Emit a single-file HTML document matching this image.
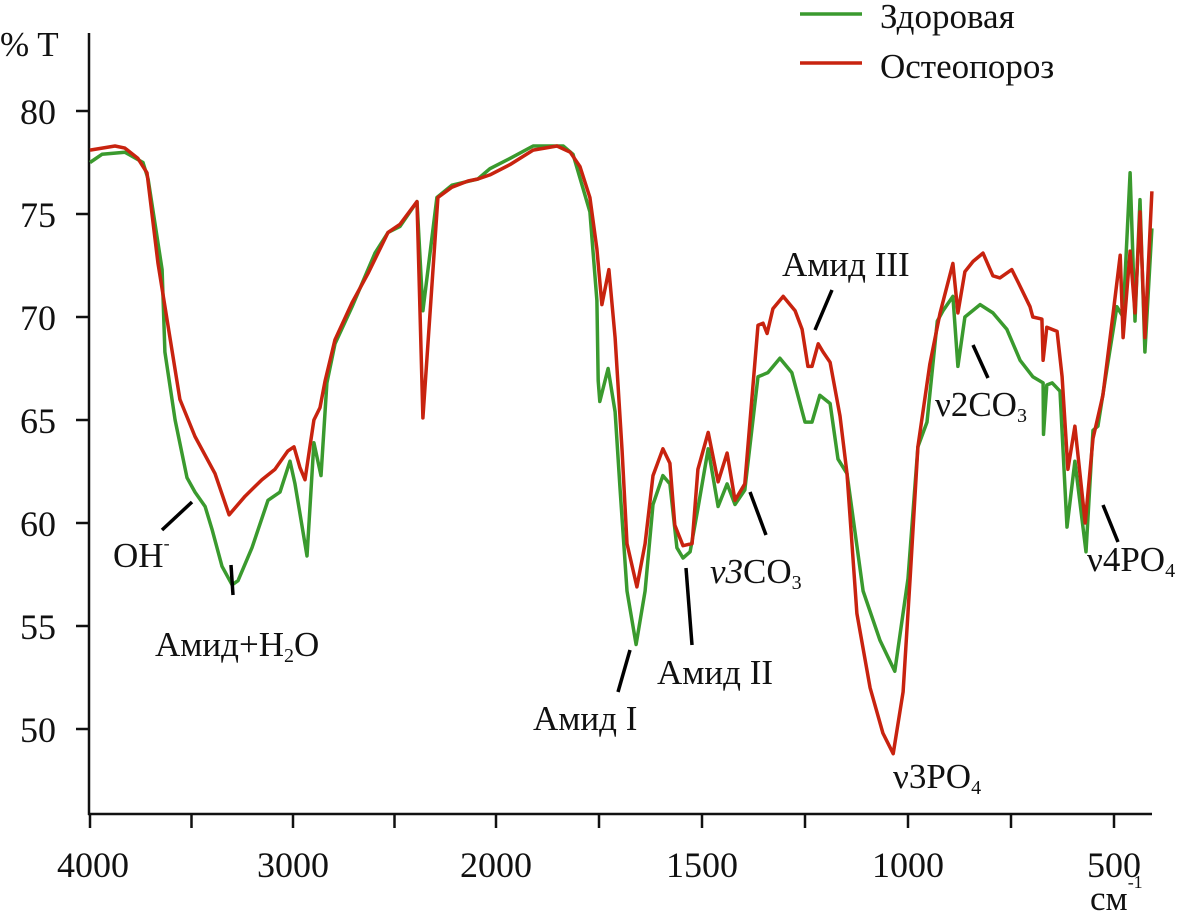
<!DOCTYPE html>
<html><head><meta charset="utf-8"><style>
body{margin:0;background:#fff;}
svg{display:block;font-family:"Liberation Serif",serif;}
</style></head><body>
<svg id="chart" width="1189" height="917" viewBox="0 0 1189 917" xmlns="http://www.w3.org/2000/svg">
<g id="axes"></g>
<g id="series"></g>
<g id="labels" font-size="35" fill="#111">
  <text x="0" y="56">% T</text>
  <text x="1090" y="910">см<tspan font-size="18" dy="-22">-1</tspan></text>
  <line x1="800" y1="14" x2="862" y2="14" stroke="#3a9a2e" stroke-width="3.5"/>
  <text x="880" y="28">Здоровая</text>
  <line x1="800" y1="63" x2="862" y2="63" stroke="#c8230f" stroke-width="3.5"/>
  <text x="880" y="78">Остеопороз</text>
  <g stroke="#000" stroke-width="3.5">
    <line x1="162" y1="530" x2="192" y2="502"/>
    <line x1="231" y1="565" x2="233" y2="595"/>
    <line x1="618" y1="692" x2="630" y2="650"/>
    <line x1="686" y1="568" x2="692" y2="645"/>
    <line x1="750" y1="492" x2="766" y2="535"/>
    <line x1="815" y1="330" x2="832" y2="290"/>
    <line x1="973" y1="345" x2="988" y2="378"/>
    <line x1="1103" y1="505" x2="1118" y2="542"/>
  </g>
  <text x="113" y="567">OH<tspan font-size="18" dy="-18">-</tspan></text>
  <text x="155" y="656">Амид+H<tspan font-size="20" dy="6">2</tspan><tspan dy="-6">O</tspan></text>
  <text x="533" y="730">Амид I</text>
  <text x="657" y="684">Амид II</text>
  <text x="710" y="583"><tspan font-style="italic">ν3</tspan>CO<tspan font-size="20" dy="6">3</tspan></text>
  <text x="782" y="276">Амид III</text>
  <text x="935" y="416">ν2CO<tspan font-size="20" dy="6">3</tspan></text>
  <text x="893" y="788">ν3PO<tspan font-size="20" dy="6">4</tspan></text>
  <text x="1087" y="571">ν4PO<tspan font-size="20" dy="6">4</tspan></text>
</g>
</svg>
<script>
const xTicks=[4000,3500,3000,2500,2000,1750,1500,1250,1000,750,500];
const xTickLabels=[4000,3000,2000,1500,1000,500];
const yTickLabels=[80,75,70,65,60,55,50];
const healthyWn=[4000,3941,3828,3739,3714,3645,3631,3581,3522,3483,3433,3399,3350,3300,3271,3202,3123,3064,3015,2990,2975,2931,2897,2862,2833,2793,2709,2596,2532,2473,2389,2360,2291,2217,2089,2030,1966,1910,1837,1813,1772,1755,1752,1748,1728,1711,1699,1682,1660,1638,1619,1595,1578,1561,1546,1529,1510,1485,1461,1439,1420,1396,1364,1352,1340,1311,1282,1250,1233,1214,1189,1170,1148,1109,1068,1032,1000,976,954,929,915,891,879,862,825,794,760,728,697,672,671,663,650,631,614,595,568,551,539,517,493,478,461,449,437,425,408];
const healthyT=[77.5,77.9,78.0,77.5,76.7,72.3,68.3,65.0,62.2,61.5,60.8,59.7,57.9,57.0,57.2,58.8,61.1,61.5,63.0,61.9,61.0,58.4,63.9,62.3,66.8,68.7,70.5,73.1,74.1,74.4,75.6,70.3,75.8,76.4,76.7,77.2,77.7,78.3,78.3,77.9,75.1,70.8,66.9,65.9,67.5,65.4,61.7,56.7,54.1,56.7,60.9,62.3,61.9,58.8,58.3,58.6,60.7,63.6,60.8,61.9,60.9,61.6,67.1,67.2,67.3,68.0,67.3,64.9,64.9,66.2,65.8,63.1,62.4,56.7,54.3,52.8,57.3,63.7,64.9,69.8,70.3,71.0,67.6,70.0,70.6,70.2,69.4,67.9,67.1,66.8,64.3,66.7,66.8,66.4,59.8,63.0,58.6,64.5,64.7,67.5,70.5,70.0,77.0,69.8,75.7,68.3,74.3];
const osteoWn=[4000,3877,3828,3764,3719,3665,3557,3483,3384,3315,3236,3153,3089,3025,2995,2966,2941,2897,2867,2842,2793,2709,2631,2532,2473,2389,2360,2286,2217,2138,2089,2030,1966,1910,1852,1820,1796,1772,1755,1743,1726,1711,1694,1682,1658,1638,1619,1595,1578,1566,1546,1524,1510,1485,1461,1439,1420,1396,1364,1352,1342,1328,1303,1274,1257,1243,1233,1218,1206,1189,1165,1148,1124,1092,1061,1036,1012,995,976,947,922,891,879,862,842,818,794,777,748,733,704,697,675,672,663,638,626,612,595,570,551,527,502,485,478,461,449,437,425,408];
const osteoT=[78.1,78.3,78.2,77.7,77.0,72.6,66.0,64.2,62.4,60.4,61.3,62.1,62.6,63.5,63.7,62.7,62.1,65.0,65.6,66.9,68.9,70.7,72.1,74.1,74.5,75.6,65.1,75.8,76.3,76.6,76.7,76.9,77.4,78.1,78.3,78.0,77.3,75.8,73.3,70.6,72.3,69.0,63.5,59.0,56.9,59.0,62.3,63.6,62.9,59.9,58.9,59.0,62.6,64.4,62.0,63.4,61.1,61.9,69.6,69.7,69.2,70.4,71.0,70.3,69.4,67.6,67.6,68.7,68.3,67.8,65.2,62.4,55.6,52.0,49.8,48.8,51.8,57.3,63.7,67.7,70.2,72.6,70.2,72.2,72.7,73.1,72.0,71.9,72.3,71.7,70.5,70.0,69.9,67.9,69.5,69.3,67.1,62.6,64.7,60.0,64.1,66.2,70.2,73.0,69.0,73.2,70.2,75.1,69.0,76.1];

function xs(wn){return wn>=2000?90+(4000-wn)*0.203:496+(2000-wn)*0.412;}
function ys(v){return 111+(80-v)*20.6;}
const NS='http://www.w3.org/2000/svg';
const axes=document.getElementById('axes');
function mk(tag,attrs,parent){const e=document.createElementNS(NS,tag);for(const k in attrs)e.setAttribute(k,attrs[k]);parent.appendChild(e);return e;}
let e=mk('line',{x1:89,y1:33,x2:89,y2:815,stroke:'#111','stroke-width':2.5},axes);


e=mk('line',{x1:88,y1:814,x2:1152,y2:814,stroke:'#111','stroke-width':2.5},axes);


xTicks.forEach(t=>{const x=xs(t);const l=mk('line',{x1:x,y1:814,x2:x,y2:828,stroke:'#111','stroke-width':2.5},axes);

});
xTickLabels.forEach(t=>{const tx=mk('text',{x:xs(t)+(t===4000?3:0),y:877,'text-anchor':'middle','font-size':36,fill:'#111'},axes);tx.textContent=t;

});
yTickLabels.forEach(t=>{const y=ys(t);const l=mk('line',{x1:76,y1:y,x2:89,y2:y,stroke:'#111','stroke-width':2.5},axes);


const tx=mk('text',{x:56,y:y+13,'text-anchor':'end','font-size':36,fill:'#111'},axes);tx.textContent=t;

});
const ser=document.getElementById('series');
function path(wn,t){return wn.map((w,i)=>(i?'L':'M')+xs(w).toFixed(1)+' '+ys(t[i]).toFixed(1)).join(' ');}
let p=mk('path',{d:path(healthyWn,healthyT),fill:'none',stroke:'#3a9a2e','stroke-width':3.5,'stroke-linejoin':'round'},ser);


p=mk('path',{d:path(osteoWn,osteoT),fill:'none',stroke:'#c8230f','stroke-width':3.5,'stroke-linejoin':'round'},ser);


</script>
</body></html>
